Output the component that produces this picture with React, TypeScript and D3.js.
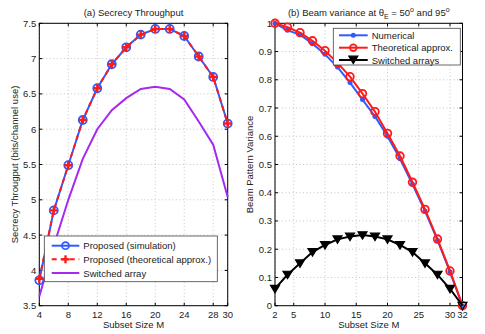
import React from "react"
import * as d3 from "d3"

// (a) secrecy throughput
const mA = [4, 6, 8, 10, 12, 14, 16, 18, 20, 22, 24, 26, 28, 30]
const simA = [3.86, 4.85, 5.49, 6.13, 6.58, 6.92, 7.16, 7.34, 7.42, 7.42, 7.32, 7.03, 6.74, 6.08]
const theoA = [3.88, 4.85, 5.49, 6.13, 6.58, 6.92, 7.16, 7.34, 7.42, 7.42, 7.32, 7.03, 6.74, 6.08]
const switchedA = [3.63, 4.35, 5.0, 5.58, 6.0, 6.27, 6.44, 6.57, 6.6, 6.57, 6.42, 6.11, 5.78, 5.04]
const xTicksA = [4, 8, 12, 16, 20, 24, 28, 30]
const yTicksA = [3.5, 4, 4.5, 5, 5.5, 6, 6.5, 7, 7.5]

// (b) beam pattern variance
const mB = [2, 4, 6, 8, 10, 12, 14, 16, 18, 20, 22, 24, 26, 28, 30, 32]
const numB = [1.0, 0.975, 0.96, 0.928, 0.89, 0.845, 0.79, 0.73, 0.67, 0.6, 0.52, 0.43, 0.335, 0.232, 0.12, 0]
const theoB = [1.0, 0.986, 0.967, 0.938, 0.903, 0.86, 0.811, 0.751, 0.687, 0.61, 0.53, 0.437, 0.341, 0.236, 0.123, 0]
const switchedB = [0.06, 0.11, 0.15, 0.19, 0.215, 0.235, 0.245, 0.25, 0.245, 0.235, 0.215, 0.19, 0.15, 0.11, 0.06, 0]
const xTicksB = [2, 5, 10, 15, 20, 25, 30, 32]
const yTicksB = [0, 0.1, 0.2, 0.3, 0.4, 0.5, 0.6, 0.7, 0.8, 0.9, 1]

const FONT = "Liberation Sans, Arial, Helvetica, sans-serif"
const FS = 9.5
const BLUE = "#2f5bff"
const RED = "#ff1a1a"
const PURPLE = "#a52af0"
const TOP = 23.3
const BOTTOM = 305.7

function Frame({ x, y, xTicks, yTicks, xFmt, yFmt }) {
    const [x0, x1] = x.range()
    const tl = 3
    return (
        <g fontFamily={FONT} fontSize={FS} fill="#222">
            {xTicks.map(t => (
                <g key={"x" + t}>
                    <line x1={x(t)} x2={x(t)} y1={TOP} y2={BOTTOM} stroke="#b8b8b8" strokeWidth={0.8} strokeDasharray="1,2.5" />
                    <line x1={x(t)} x2={x(t)} y1={BOTTOM} y2={BOTTOM - tl} stroke="#000" />
                    <line x1={x(t)} x2={x(t)} y1={TOP} y2={TOP + tl} stroke="#000" />
                    <text x={x(t)} y={BOTTOM + 12} textAnchor="middle">{xFmt(t)}</text>
                </g>
            ))}
            {yTicks.map(t => (
                <g key={"y" + t}>
                    <line x1={x0} x2={x1} y1={y(t)} y2={y(t)} stroke="#b8b8b8" strokeWidth={0.8} strokeDasharray="1,2.5" />
                    <line x1={x0} x2={x0 + tl} y1={y(t)} y2={y(t)} stroke="#000" />
                    <line x1={x1} x2={x1 - tl} y1={y(t)} y2={y(t)} stroke="#000" />
                    <text x={x0 - 3} y={y(t) + 3.5} textAnchor="end">{yFmt(t)}</text>
                </g>
            ))}
            <rect x={x0} y={TOP} width={x1 - x0} height={BOTTOM - TOP} fill="none" stroke="#000" strokeWidth={1} />
        </g>
    )
}

function Circle({ cx, cy, color, r = 4, sw = 1.8, fill = "none" }) {
    return <circle cx={cx} cy={cy} r={r} fill={fill} stroke={color} strokeWidth={sw} />
}

function Plus({ cx, cy, color }) {
    return (
        <g stroke={color} strokeWidth={2.4}>
            <line x1={cx - 4} x2={cx + 4} y1={cy} y2={cy} />
            <line x1={cx} x2={cx} y1={cy - 4} y2={cy + 4} />
        </g>
    )
}

function Tri({ cx, cy, color, fill }) {
    const s = 4.5
    return <path d={`M${cx - s},${cy - s * 0.75}L${cx + s},${cy - s * 0.75}L${cx},${cy + s * 0.9}Z`} fill={fill} stroke={color} strokeWidth={1.2} />
}

function PanelA() {
    const x = d3.scaleLinear().domain([4, 30]).range([39.3, 227.7])
    const y = d3.scaleLinear().domain([3.5, 7.5]).range([BOTTOM, TOP])
    const line = (ys: number[]) => d3.line<number>().x((_, i) => x(mA[i])).y(d => y(d))(ys)
    const lx = 44.3, ly = 236, lw = 173, lh = 45.7
    return (
        <g>
            <text x={(39.3 + 227.7) / 2} y={16} textAnchor="middle" fontFamily={FONT} fontSize={FS} fill="#222">(a) Secrecy Throughput</text>
            <text transform={`translate(17.5,${(TOP + BOTTOM) / 2}) rotate(-90)`} textAnchor="middle" fontFamily={FONT} fontSize={FS} fill="#222">Secrecy Througput (bits/channel use)</text>
            <text x={(39.3 + 227.7) / 2} y={328} textAnchor="middle" fontFamily={FONT} fontSize={FS} fill="#222">Subset Size M</text>
            <Frame x={x} y={y} xTicks={xTicksA} yTicks={yTicksA} xFmt={d => String(d)} yFmt={d => String(d)} />
            <g clipPath="url(#clipA)">
                <path d={line(switchedA)} fill="none" stroke={PURPLE} strokeWidth={2} />
                <path d={line(simA)} fill="none" stroke={BLUE} strokeWidth={2} />
                {simA.map((v, i) => <Circle key={i} cx={x(mA[i])} cy={y(v)} color={BLUE} />)}
                <path d={line(theoA)} fill="none" stroke={RED} strokeWidth={2} strokeDasharray="5,4" />
                {theoA.map((v, i) => <Plus key={i} cx={x(mA[i])} cy={y(v)} color={RED} />)}
            </g>
            <g fontFamily={FONT} fontSize={FS} fill="#222">
                <rect x={lx} y={ly} width={lw} height={lh} fill="#fff" stroke="#444" strokeWidth={0.8} />
                <line x1={51.7} x2={79.3} y1={245.7} y2={245.7} stroke={BLUE} strokeWidth={2} />
                <Circle cx={65.5} cy={245.7} color={BLUE} r={3.5} />
                <text x={83.3} y={249.2}>Proposed (simulation)</text>
                <line x1={51.7} x2={79.3} y1={259.3} y2={259.3} stroke={RED} strokeWidth={2} strokeDasharray="5,4" />
                <Plus cx={65.5} cy={259.3} color={RED} />
                <text x={83.3} y={262.8}>Proposed (theoretical approx.)</text>
                <line x1={51.7} x2={79.3} y1={273} y2={273} stroke={PURPLE} strokeWidth={2} />
                <text x={83.3} y={276.5}>Switched array</text>
            </g>
        </g>
    )
}

function PanelB() {
    const x = d3.scaleLinear().domain([2, 32]).range([275, 462.5])
    const y = d3.scaleLinear().domain([0, 1]).range([BOTTOM, TOP])
    const line = (ys: number[]) => d3.line<number>().x((_, i) => x(mB[i])).y(d => y(d))(ys)
    const cx = (275 + 462.5) / 2
    return (
        <g>
            <text x={cx} y={16} textAnchor="middle" fontFamily={FONT} fontSize={FS} fill="#222">
                (b) Beam variance at θ<tspan fontSize={7} dy={3}>E</tspan><tspan dy={-3}> = 50</tspan><tspan fontSize={7} dy={-4}>o</tspan><tspan dy={4}> and 95</tspan><tspan fontSize={7} dy={-4}>o</tspan>
            </text>
            <text transform={`translate(253,${(TOP + BOTTOM) / 2}) rotate(-90)`} textAnchor="middle" fontFamily={FONT} fontSize={FS} fill="#222">Beam Pattern Variance</text>
            <text x={cx} y={328} textAnchor="middle" fontFamily={FONT} fontSize={FS} fill="#222">Subset Size M</text>
            <Frame x={x} y={y} xTicks={xTicksB} yTicks={yTicksB} xFmt={d => String(d)} yFmt={d => String(d)} />
            <path d={line(numB)} fill="none" stroke={BLUE} strokeWidth={2} />
            {numB.map((v, i) => <circle key={i} cx={x(mB[i])} cy={y(v)} r={2.5} fill={BLUE} />)}
            <path d={line(theoB)} fill="none" stroke={RED} strokeWidth={2} />
            {theoB.map((v, i) => <Circle key={i} cx={x(mB[i])} cy={y(v)} color={RED} r={3.8} />)}
            <path d={line(switchedB)} fill="none" stroke="#000" strokeWidth={2} />
            {switchedB.map((v, i) => <Tri key={i} cx={x(mB[i])} cy={y(v)} color="#000" fill={i === switchedB.length - 1 ? "none" : "#000"} />)}
            <g fontFamily={FONT} fontSize={FS} fill="#222">
                <rect x={333.3} y={28.3} width={127} height={36.7} fill="#fff" stroke="#444" strokeWidth={0.8} />
                <line x1={339} x2={367.7} y1={35.3} y2={35.3} stroke={BLUE} strokeWidth={2} />
                <circle cx={353.3} cy={35.3} r={2.5} fill={BLUE} />
                <text x={371.7} y={38.8}>Numerical</text>
                <line x1={339} x2={367.7} y1={47.7} y2={47.7} stroke={RED} strokeWidth={2} />
                <Circle cx={353.3} cy={47.7} color={RED} r={3.3} />
                <text x={371.7} y={51.2}>Theoretical approx.</text>
                <line x1={339} x2={367.7} y1={60} y2={60} stroke="#000" strokeWidth={2} />
                <Tri cx={353.3} cy={59.5} color="#000" fill="#000" />
                <text x={371.7} y={63.5}>Switched arrays</text>
            </g>
        </g>
    )
}

export default function App() {
    return (
        <svg width={485} height={334} style={{ position: "absolute", left: 0, top: 0, background: "#fff" }}>
            <defs>
                <clipPath id="clipA">
                    <rect x={30} y={TOP - 10} width={210} height={BOTTOM - TOP + 10} />
                </clipPath>
            </defs>
            <rect width={485} height={334} fill="#fff" />
            <PanelA />
            <PanelB />
        </svg>
    )
}
